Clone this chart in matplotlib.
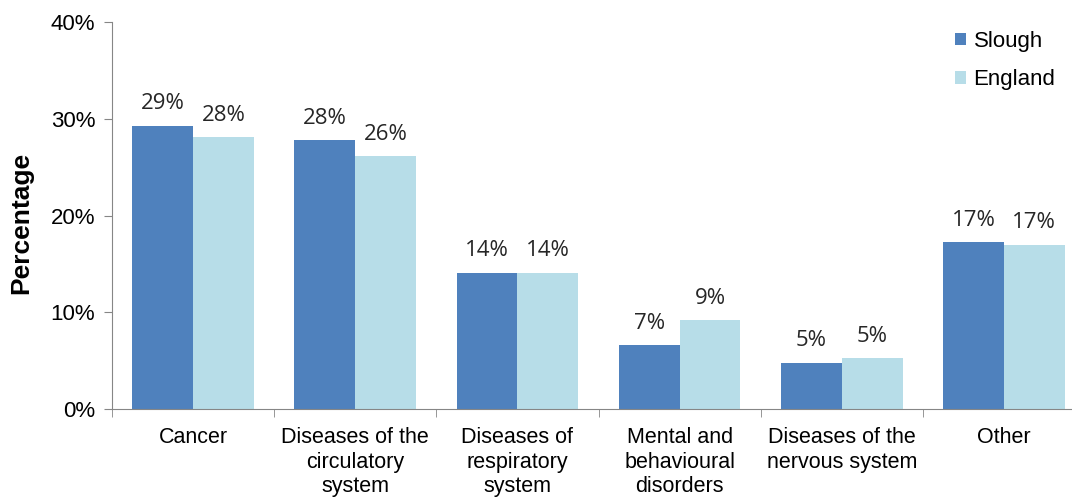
import matplotlib.pyplot as plt
import numpy as np

categories = ["Cancer", "Diseases of the\ncirculatory\nsystem", "Diseases of\nrespiratory\nsystem",
              "Mental and\nbehavioural\ndisorders", "Diseases of the\nnervous system", "Other"]
slough = [29.3, 27.8, 14.1, 6.6, 4.8, 17.3]
england = [28.1, 26.1, 14.1, 9.2, 5.3, 17.0]
yticks = [0, 10, 20, 30, 40]

plt.rcParams['font.family'] = ['Liberation Sans', 'DejaVu Sans']

fig = plt.figure(figsize=(10.72, 4.97), dpi=100)
ax = fig.add_axes([112 / 1072, 88 / 497, 973 / 1072, 387 / 497])

x = np.arange(len(categories))
w = 0.375
b1 = ax.bar(x - w / 2, slough, w, color='#4F81BD', label='Slough')
b2 = ax.bar(x + w / 2, england, w, color='#B7DDE8', label='England')

for bars in (b1, b2):
    for r in bars:
        v = r.get_height()
        ax.annotate('%d%%' % int(v + 0.5), (r.get_x() + r.get_width() / 2, v),
                    xytext=(0, 8), textcoords='offset points', ha='center', va='bottom',
                    fontsize=16, color='#262626', family=['Open Sans', 'DejaVu Sans'])

ax.set_xlim(-0.5, len(categories) - 0.5)
ax.set_ylim(0, 40)
ax.set_yticks(yticks)
ax.set_yticklabels(['%d%%' % t for t in yticks], fontsize=16)
ax.set_xticks(x)
ax.set_xticklabels(categories, fontsize=15.5, linespacing=1.22)
ax.set_xticks(np.arange(len(categories) + 1) - 0.5, minor=True)
ax.tick_params(axis='x', which='major', length=0, pad=13)
ax.tick_params(axis='x', which='minor', length=6, direction='out', color='#868686')
ax.tick_params(axis='y', length=6, direction='out', color='#868686', pad=6)

for s in ('top', 'right'):
    ax.spines[s].set_visible(False)
for s in ('left', 'bottom'):
    ax.spines[s].set_color('#868686')

ax.set_ylabel('Percentage', fontsize=19, fontweight='bold')
ax.yaxis.set_label_coords(-0.081, 0.48)

leg = ax.legend(loc='upper left', bbox_to_anchor=(0.866, 0.977), frameon=False, fontsize=16,
                borderpad=0, borderaxespad=0,
                handlelength=0.5, handleheight=0.5, handletextpad=0.35, labelspacing=0.78)

fig.savefig('out.png', dpi=100)
